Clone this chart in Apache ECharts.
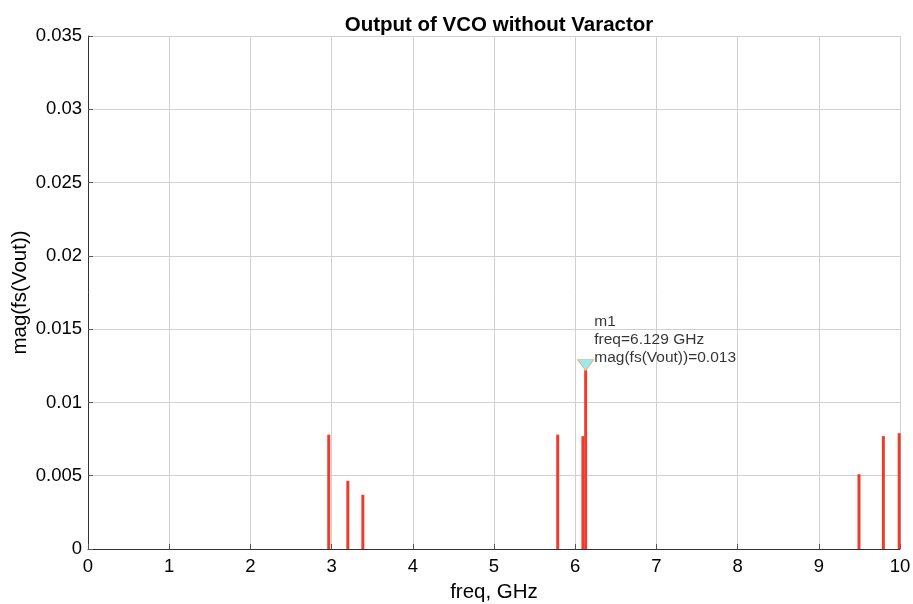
<!DOCTYPE html>
<html><head><meta charset="utf-8">
<script src="https://cdn.jsdelivr.net/npm/echarts@6/dist/echarts.min.js"></script>
<style>html,body{margin:0;padding:0;background:#fff}#c{width:913px;height:604px}</style>
</head><body><div id="c"></div>
<script>
const freqGHz = [2.965, 3.2, 3.385, 5.785, 6.095, 6.129, 9.495, 9.795, 9.99];
const magVout = [0.0078, 0.00465, 0.0037, 0.0078, 0.0077, 0.0122, 0.0051, 0.0077, 0.0079];
const markerFreq = 6.129;
const markerMag = 0.0122;
const markerText = ['m1', 'freq=6.129 GHz', 'mag(fs(Vout))=0.013'];
const titleText = 'Output of VCO without Varactor';

const chart = echarts.init(document.getElementById('c'));
const font = 'Liberation Sans, Arial, sans-serif';
chart.setOption({
  animation: false,
  title: { text: titleText, left: 494, top: 10, textAlign: 'center',
    textStyle: { fontFamily: font, fontSize: 20.5, fontWeight: 'bold', color: '#000' } },
  grid: { left: 88, right: 13, top: 36, bottom: 55, outerBoundsMode: 'none' },
  xAxis: {
    type: 'value', min: 0, max: 10, interval: 1,
    name: 'freq, GHz', nameLocation: 'middle', nameGap: 33,
    nameTextStyle: { fontFamily: font, fontSize: 20.5, color: '#000' },
    axisLine: { show: true, lineStyle: { color: '#333', width: 1 } },
    axisTick: { show: true, inside: true, length: 5, lineStyle: { color: '#555' } },
    axisLabel: { fontFamily: font, fontSize: 18.5, color: '#000', margin: 8 },
    splitLine: { show: true, lineStyle: { color: '#d0d0d0', width: 1 } }
  },
  yAxis: {
    type: 'value', min: 0, max: 0.035, interval: 0.005,
    name: 'mag(fs(Vout))', nameLocation: 'middle', nameGap: 57, nameMoveOverlap: false,
    nameTextStyle: { fontFamily: font, fontSize: 20.5, color: '#000' },
    axisLine: { show: true, lineStyle: { color: '#333', width: 1 } },
    axisTick: { show: true, inside: true, length: 5, lineStyle: { color: '#555' } },
    axisLabel: { fontFamily: font, fontSize: 18.5, color: '#000', margin: 6,
      formatter: v => (Math.round(v * 1000) / 1000).toString() },
    splitLine: { show: true, lineStyle: { color: '#d0d0d0', width: 1 } }
  },
  series: [
    {
      type: 'bar', barWidth: 3, barGap: '-100%',
      itemStyle: { color: '#ee3b2b' },
      data: freqGHz.map((f, i) => [f, magVout[i]]),
      z: 3
    },
    {
      type: 'scatter', symbol: 'triangle', symbolRotate: 180, symbolSize: [16, 11],
      symbolOffset: [0, -5],
      itemStyle: { color: '#7fe6ee', borderColor: '#e8a060', borderWidth: 1 },
      label: { show: true, position: 'right', distance: 0, offset: [0, -25], align: 'left',
        formatter: markerText.join('\n'),
        fontFamily: font, fontSize: 15.5, lineHeight: 18, color: '#000' },
      data: [[markerFreq, markerMag]],
      z: 5
    }
  ]
});
</script></body></html>
